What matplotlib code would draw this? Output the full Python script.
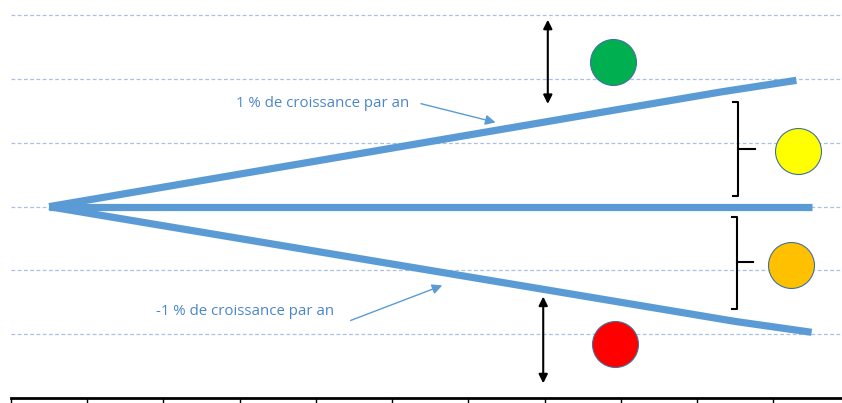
import matplotlib.pyplot as plt
from matplotlib.ticker import FixedLocator

# Données (années 0 à 10)
annees = list(range(11))
croissance_haut = [0, 0.2, 0.4, 0.6, 0.8, 1.0, 1.2, 1.4, 1.6, 1.8, 1.98]
stable = [0] * 11
croissance_bas = [0, -0.2, -0.4, -0.6, -0.8, -1.0, -1.2, -1.4, -1.6, -1.8, -1.97]
x_haut = [0, 0.98, 1.96, 2.94, 3.92, 4.9, 5.88, 6.86, 7.84, 8.82, 9.8]

label_haut = '1 % de croissance par an'
label_bas = '-1 % de croissance par an'

bleu = '#5B9BD5'

fig = plt.figure(figsize=(8.42, 4.03), dpi=100)
ax = fig.add_axes([11 / 842, 5 / 403, 838.75 / 842, 384 / 403])

# Lignes principales
ax.plot(x_haut, croissance_haut, color=bleu, lw=5.2, solid_capstyle='butt', zorder=3)
ax.plot(annees, stable, color=bleu, lw=5.2, solid_capstyle='butt', zorder=3)
ax.plot(annees, croissance_bas, color=bleu, lw=5.2, solid_capstyle='butt', zorder=3)

# Annotations
ax.text(3.59, 1.61, label_haut, color='#4A86C8', fontsize=10.8, family='Open Sans',
        ha='center', va='center')
ax.annotate('', xy=(5.89, 1.31), xytext=(4.84, 1.625),
            arrowprops=dict(arrowstyle='-|>', color=bleu, lw=1, mutation_scale=15))
ax.text(2.57, -1.64, label_bas, color='#4A86C8', fontsize=10.8, family='Open Sans',
        ha='center', va='center')
ax.annotate('', xy=(5.19, -1.22), xytext=(3.92, -1.80),
            arrowprops=dict(arrowstyle='-|>', color=bleu, lw=1, mutation_scale=15))

# Flèches doubles noires
ax.annotate('', xy=(6.54, 2.93), xytext=(6.54, 1.61),
            arrowprops=dict(arrowstyle='<|-|>', color='black', lw=1.5, mutation_scale=13,
                            shrinkA=0, shrinkB=0))
ax.annotate('', xy=(6.48, -1.41), xytext=(6.48, -2.77),
            arrowprops=dict(arrowstyle='<|-|>', color='black', lw=1.5, mutation_scale=13,
                            shrinkA=0, shrinkB=0))

# Accolades
ax.plot([8.97, 9.03, 9.03, 8.97], [1.64, 1.64, 0.17, 0.17], color='black', lw=1.5)
ax.plot([9.03, 9.26], [0.91, 0.91], color='black', lw=1.5)
ax.plot([8.96, 9.02, 9.02, 8.96], [-0.16, -0.16, -1.61, -1.61], color='black', lw=1.5)
ax.plot([9.02, 9.23], [-0.875, -0.875], color='black', lw=1.5)

# Pastilles
ax.scatter([7.40], [2.27], s=1096, color='#00B050', edgecolor='#41719C', lw=0.8, zorder=4)
ax.scatter([9.82], [0.87], s=1096, color='#FFFF00', edgecolor='#41719C', lw=0.8, zorder=4)
ax.scatter([9.73], [-0.91], s=1096, color='#FFC000', edgecolor='#41719C', lw=0.8, zorder=4)
ax.scatter([7.42], [-2.16], s=1096, color='#FF0000', edgecolor='#41719C', lw=0.8, zorder=4)

# Axes
ax.set_xlim(-0.5, 10.5)
ax.set_ylim(-3, 3.02)
ax.xaxis.set_major_locator(FixedLocator([i - 0.5 for i in range(12)]))
ax.yaxis.set_major_locator(FixedLocator([-2, -1, 0, 1, 2, 3]))
ax.grid(True, axis='y', color='#A9C0E4', lw=0.9, ls=(0, (3, 2)))
ax.set_axisbelow(True)
for s in ['top', 'right', 'left']:
    ax.spines[s].set_visible(False)
ax.spines['bottom'].set_linewidth(2)
ax.tick_params(axis='x', direction='out', length=5, width=1, labelbottom=False)
ax.tick_params(axis='y', length=0, labelleft=False)

plt.savefig('out.png', dpi=100)
